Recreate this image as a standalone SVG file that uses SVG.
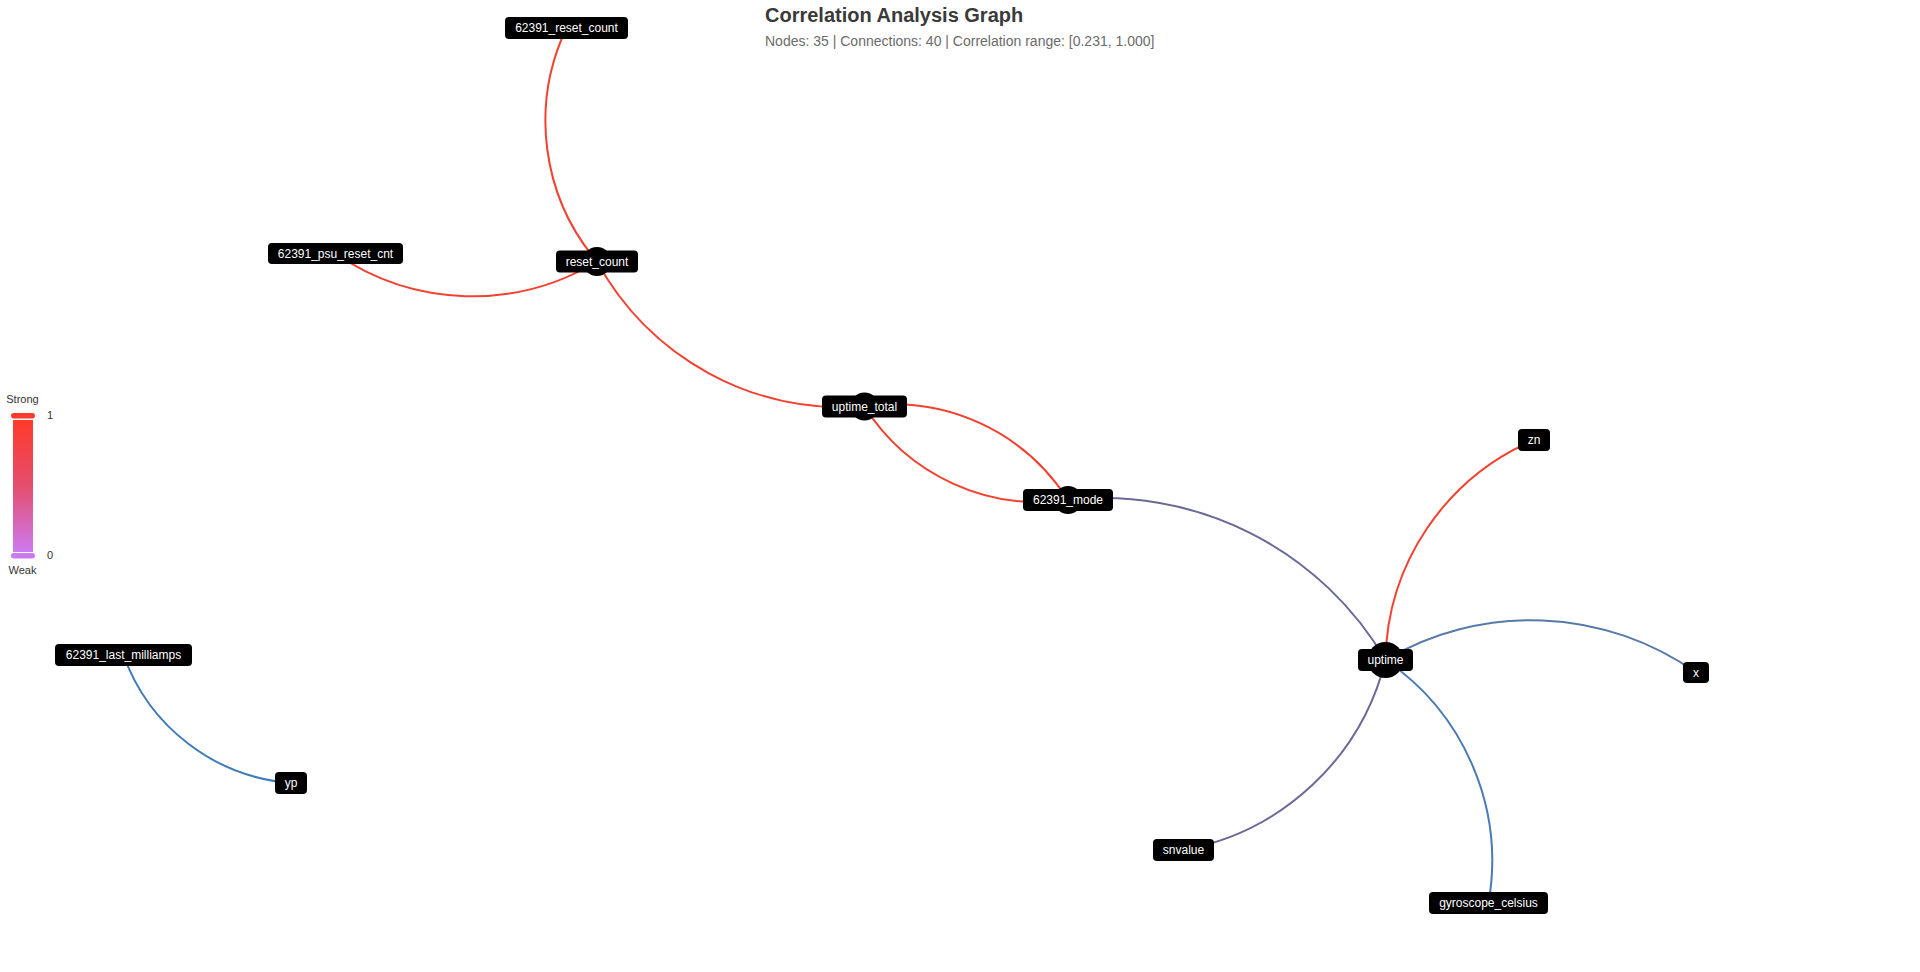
<svg xmlns="http://www.w3.org/2000/svg" width="1920" height="972" viewBox="0 0 1920 972">
  <defs>
    <linearGradient id="legendGrad" x1="0" y1="0" x2="0" y2="1">
      <stop offset="0" stop-color="#ff3a2a"/>
      <stop offset="0.5" stop-color="#e44e6e"/>
      <stop offset="1" stop-color="#cc7af2"/>
    </linearGradient>
    <style>
      .title { font-family: "Liberation Sans", Arial, sans-serif; font-size: 20px; font-weight: bold; fill: #3a3a3a; }
      .subtitle { font-family: "Liberation Sans", Arial, sans-serif; font-size: 14px; fill: #6b6b6b; }
      .legend { font-family: "Liberation Sans", Arial, sans-serif; font-size: 11px; fill: #333333; }
      .edge { fill: none; stroke-width: 2; }
      .red { stroke: #f4402f; }
      .purple { stroke: #6b6a96; }
      .blue1 { stroke: #587aab; }
      .blue2 { stroke: #4a7ab5; }
      .blue3 { stroke: #3d7bb9; }
      .hub { fill: #000000; }
      .box { fill: #000000; }
      .label { font-family: "Liberation Sans", Arial, sans-serif; font-size: 12px; fill: #ffffff; text-anchor: middle; }
    </style>
  </defs>
  <rect x="0" y="0" width="1920" height="972" fill="#ffffff"/>

  <text class="title" x="765" y="21.5">Correlation Analysis Graph</text>
  <text class="subtitle" x="765" y="45.5">Nodes: 35 | Connections: 40 | Correlation range: [0.231, 1.000]</text>

  <g id="legend">
    <text class="legend" x="22.5" y="403" text-anchor="middle">Strong</text>
    <rect x="11" y="413" width="24" height="5.5" rx="2.75" fill="#ff3a2a"/>
    <rect x="12.5" y="419.5" width="21" height="133" fill="url(#legendGrad)" stroke="#ffffff" stroke-width="1"/>
    <rect x="11" y="553" width="24" height="5.5" rx="2.75" fill="#cc7af2"/>
    <text class="legend" x="47" y="419">1</text>
    <text class="legend" x="47" y="559">0</text>
    <text class="legend" x="22.5" y="574" text-anchor="middle">Weak</text>
  </g>

  <g id="connectors">
    <path class="edge red" d="M597 261.5 A216.7 216.7 0 0 1 566.5 28"/>
    <path class="edge red" d="M597 261.5 A240.7 240.7 0 0 1 335.5 253.5"/>
    <path class="edge red" d="M864.5 406.5 A280 280 0 0 1 597 261.5"/>
    <path class="edge red" d="M864.5 406.5 A206 206 0 0 1 1068 500"/>
    <path class="edge red" d="M1068 500 A206 206 0 0 1 864.5 406.5"/>
    <path class="edge purple" d="M1068 500 A327 327 0 0 1 1385.5 660"/>
    <path class="edge red" d="M1385.5 660 A244.2 244.2 0 0 1 1534 440"/>
    <path class="edge blue1" d="M1385.5 660 A286 286 0 0 1 1696 672.5"/>
    <path class="edge purple" d="M1385.5 660 A255.1 255.1 0 0 1 1183.5 850"/>
    <path class="edge blue2" d="M1385.5 660 A242.8 242.8 0 0 1 1488.5 903"/>
    <path class="edge blue3" d="M291 783 A193.9 193.9 0 0 1 123.5 655"/>
  </g>

  <g id="node-62391_reset_count">
    <rect class="box" x="505" y="17" width="123" height="22" rx="4"/>
    <text class="label" x="566.5" y="32.2">62391_reset_count</text>
  </g>
  <g id="node-62391_psu_reset_cnt">
    <rect class="box" x="268" y="243" width="135" height="21" rx="4"/>
    <text class="label" x="335.5" y="257.7">62391_psu_reset_cnt</text>
  </g>
  <g id="node-reset_count">
    <circle class="hub" cx="597" cy="261.5" r="14.5"/>
    <rect class="box" x="556" y="250.5" width="82" height="22" rx="4"/>
    <text class="label" x="597" y="265.7">reset_count</text>
  </g>
  <g id="node-uptime_total">
    <circle class="hub" cx="864.5" cy="406.5" r="14"/>
    <rect class="box" x="822" y="395.5" width="85" height="22" rx="4"/>
    <text class="label" x="864.5" y="410.7">uptime_total</text>
  </g>
  <g id="node-62391_mode">
    <circle class="hub" cx="1068" cy="500" r="14"/>
    <rect class="box" x="1023" y="489" width="90" height="22" rx="4"/>
    <text class="label" x="1068" y="504.2">62391_mode</text>
  </g>
  <g id="node-uptime">
    <circle class="hub" cx="1385.5" cy="660" r="18"/>
    <rect class="box" x="1358" y="649" width="55" height="22" rx="4"/>
    <text class="label" x="1385.5" y="664.2">uptime</text>
  </g>
  <g id="node-zn">
    <rect class="box" x="1518" y="429" width="32" height="22" rx="4"/>
    <text class="label" x="1534" y="444.2">zn</text>
  </g>
  <g id="node-x">
    <rect class="box" x="1683" y="662" width="26" height="21" rx="4"/>
    <text class="label" x="1696" y="676.7">x</text>
  </g>
  <g id="node-snvalue">
    <rect class="box" x="1153" y="839" width="61" height="22" rx="4"/>
    <text class="label" x="1183.5" y="854.2">snvalue</text>
  </g>
  <g id="node-gyroscope_celsius">
    <rect class="box" x="1429" y="892" width="119" height="22" rx="4"/>
    <text class="label" x="1488.5" y="907.2">gyroscope_celsius</text>
  </g>
  <g id="node-62391_last_milliamps">
    <rect class="box" x="55" y="644" width="137" height="22" rx="4"/>
    <text class="label" x="123.5" y="659.2">62391_last_milliamps</text>
  </g>
  <g id="node-yp">
    <rect class="box" x="275" y="772" width="32" height="22" rx="4"/>
    <text class="label" x="291" y="787.2">yp</text>
  </g>
</svg>
